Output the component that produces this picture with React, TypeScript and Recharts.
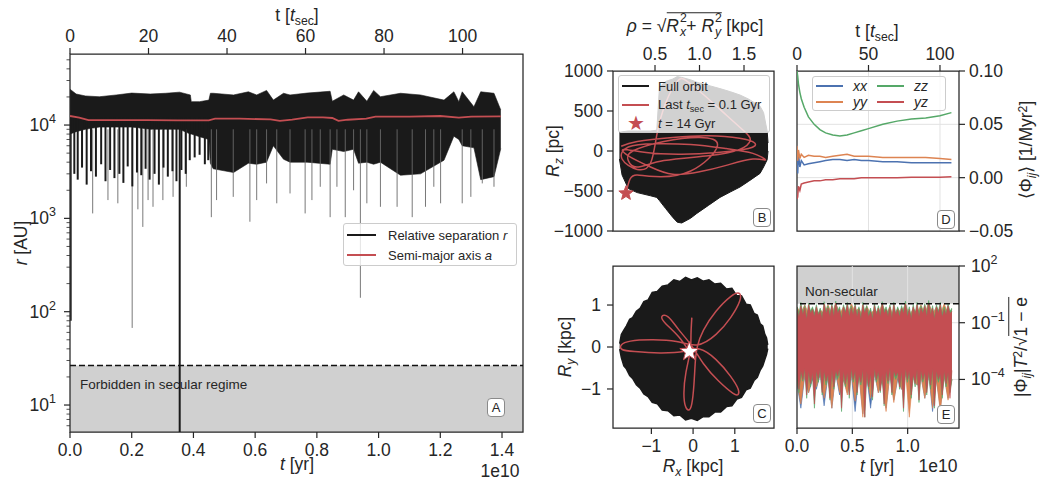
import React from 'react';
import {
  ComposedChart,
  Area,
  Line,
  Scatter,
  XAxis,
  YAxis,
  CartesianGrid,
  ReferenceArea,
  ReferenceLine,
  Legend,
} from 'recharts';

const FONT = '"Liberation Sans", Arial, sans-serif';
const INK = '#262626';
const BLACK = '#1a1a1a';
const RED = '#c44e52';
const BLUE = '#4c72b0';
const ORANGE = '#dd8452';
const GREEN = '#55a868';
const SHADE = '#d0d0d0';
const GRID = '#e2e2e2';

// ---- panel A: separation r and semi-major axis a, t in units of 1e10 yr
const tEnv = [0, 0.02, 0.05, 0.095, 0.15, 0.2, 0.26, 0.31, 0.355, 0.39, 0.393, 0.42, 0.45, 0.455, 0.464, 0.53, 0.578, 0.605, 0.637, 0.659, 0.692, 0.713, 0.768, 0.843, 0.85, 0.887, 0.919, 0.935, 0.962, 0.984, 1.006, 1.071, 1.136, 1.212, 1.244, 1.26, 1.271, 1.309, 1.331, 1.374, 1.396];
const rHigh = [24200, 21500, 20500, 20100, 21000, 22000, 21500, 21900, 22500, 21000, 17800, 17800, 18500, 21900, 21900, 21000, 22700, 21000, 23500, 18500, 21900, 21000, 22000, 23000, 18000, 21000, 18500, 22700, 18000, 23500, 20100, 21900, 21000, 18500, 22700, 17800, 22700, 15700, 22700, 21900, 14500];
const rLow = [8000, 8500, 9000, 9500, 9500, 9500, 9000, 9000, 9000, 8000, 8000, 7500, 7000, 3900, 3400, 3100, 3900, 3800, 4000, 6000, 4300, 4000, 4000, 3800, 5500, 5200, 5500, 3900, 4000, 3800, 4000, 2900, 3000, 4200, 7600, 7000, 6000, 5700, 2600, 2800, 5600];
const stripeT = [0.014, 0.025, 0.039, 0.054, 0.068, 0.084, 0.101, 0.115, 0.13, 0.144, 0.16, 0.173, 0.187, 0.202, 0.217, 0.231, 0.245, 0.258, 0.274, 0.288, 0.303, 0.317, 0.332, 0.345, 0.361, 0.375, 0.388, 0.404, 0.42, 0.437, 0.448];
const stripeMin = [3000, 2600, 3500, 2300, 3200, 2800, 3800, 2500, 3300, 2700, 3000, 2400, 3600, 2200, 3100, 2900, 3400, 2600, 3000, 2300, 3500, 2800, 3200, 2500, 3300, 3000, 4200, 4500, 4800, 3800, 4200];
const spikeT = [0.0735, 0.123, 0.155, 0.2015, 0.22, 0.236, 0.253, 0.269, 0.301, 0.334, 0.377, 0.458, 0.475, 0.529, 0.583, 0.605, 0.637, 0.67, 0.713, 0.762, 0.784, 0.811, 0.843, 0.865, 0.892, 0.919, 0.941, 0.962, 1.006, 1.06, 1.109, 1.152, 1.179, 1.201, 1.271, 1.299, 1.336, 1.374];
const spikeMin = [1130, 1570, 1450, 67, 1250, 810, 1570, 1330, 1570, 1700, 2180, 1030, 1570, 1700, 920, 1570, 2370, 1450, 1850, 1130, 1570, 2180, 1030, 2180, 1030, 2000, 141, 1450, 1330, 1330, 1030, 1330, 2180, 1450, 1450, 1700, 2370, 2180];
const tA = [0, 0.03, 0.06, 0.15, 0.25, 0.35, 0.45, 0.47, 0.55, 0.65, 0.68, 0.72, 0.77, 0.82, 0.85, 0.87, 0.9, 0.96, 0.99, 1.1, 1.2, 1.26, 1.3, 1.396];
const aVal = [12500, 12000, 11300, 11300, 11300, 11200, 11200, 11700, 11700, 11500, 11100, 11400, 12100, 12100, 11900, 11100, 11400, 11700, 12300, 12300, 12500, 12000, 12300, 12400];
const runTsec = [0, 110];
const plungeT = 0.3555;
const startT = 0.003;
const startMin = 80;
const secularLimit = 26.5;
const tTicksA = [0, 0.2, 0.4, 0.6, 0.8, 1.0, 1.2, 1.4];
const tsecTicksA = [0, 20, 40, 60, 80, 100];
const rMajorA = [10, 100, 1000, 10000];
const rMinorA = [6, 7, 8, 9, 20, 30, 40, 50, 60, 70, 80, 90, 200, 300, 400, 500, 600, 700, 800, 900, 2000, 3000, 4000, 5000, 6000, 7000, 8000, 9000, 20000, 30000, 40000, 50000];

// ---- panel B: rho vs Rz
const rhoEnv = [0.1, 0.13, 0.2, 0.3, 0.45, 0.52, 0.55, 0.62, 0.7, 0.75, 0.8, 0.9, 0.97, 1.1, 1.23, 1.35, 1.455, 1.55, 1.68, 1.72, 1.76, 1.77];
const rzLow = [-100, -300, -470, -520, -560, -580, -620, -720, -830, -890, -900, -840, -780, -680, -580, -510, -450, -380, -280, -200, -110, 0];
const rzHigh = [230, 240, 250, 250, 250, 260, 800, 870, 900, 930, 920, 890, 860, 820, 780, 740, 700, 650, 560, 480, 250, 100];
const rhoPath = [0.12, 0.3, 0.7, 1.1, 1.45, 1.62, 1.55, 1.2, 0.8, 0.4, 0.15, 0.2, 0.45, 0.7, 1.0, 1.3, 1.6, 1.74, 1.6, 1.3, 0.9, 0.5, 0.2, 0.13, 0.3, 0.45, 0.52, 0.62, 0.75, 0.85, 1.05, 1.3, 1.5, 1.57, 1.45, 1.1, 0.6, 0.3, 0.2, 0.25, 0.6, 1.0, 1.2, 0.9, 0.5, 0.3, 0.22, 0.174];
const rzPath = [60, 120, 170, 190, 160, 100, 30, -20, -40, -20, 20, -60, -200, -290, -260, -180, -100, -110, -30, 30, 80, 90, 50, -100, -230, -150, 200, 600, 870, 880, 700, 450, 250, 137, 20, -60, -120, -200, -120, 0, 120, 170, 60, -250, -320, -300, -350, -529];
const rhoNow = 0.174;
const rzNow = -529;
const rhoTicks = [0.5, 1.0, 1.5];
const rzTicks = [-1000, -500, 0, 500, 1000];

// ---- panel C: Rx vs Ry
const rxEnv = [-1.76, -1.72, -1.66, -1.6, -1.52, -1.45, -1.36, -1.27, -1.18, -1.08, -0.98, -0.86, -0.74, -0.6, -0.46, -0.32, -0.18, -0.04, 0.1, 0.24, 0.38, 0.52, 0.66, 0.8, 0.93, 1.05, 1.16, 1.27, 1.37, 1.46, 1.54, 1.61, 1.67, 1.72, 1.76, 1.79];
const ryLow = [-0.05, -0.25, -0.45, -0.52, -0.68, -0.75, -0.9, -0.98, -1.12, -1.18, -1.32, -1.35, -1.5, -1.52, -1.64, -1.62, -1.74, -1.7, -1.75, -1.66, -1.66, -1.55, -1.55, -1.42, -1.4, -1.24, -1.2, -1.02, -0.98, -0.8, -0.72, -0.55, -0.45, -0.3, -0.18, -0.04];
const ryHigh = [0.08, 0.3, 0.4, 0.5, 0.66, 0.7, 0.85, 0.92, 1.08, 1.12, 1.3, 1.32, 1.45, 1.48, 1.6, 1.56, 1.66, 1.6, 1.65, 1.57, 1.6, 1.5, 1.52, 1.38, 1.4, 1.22, 1.22, 1.02, 1.0, 0.8, 0.76, 0.55, 0.5, 0.3, 0.22, 0.05];
const rxPath = [-0.03, -0.05, -0.07, -0.17, -0.22, -0.18, -0.1, -0.03, 0.02, 0.05, 0.1, 0.25, 0.55, 0.9, 1.1, 1.12, 0.9, 0.55, 0.1, -0.4, -1.0, -1.5, -1.72, -1.7, -1.4, -0.8, -0.2, 0.15, 0.55, 0.9, 1.08, 1.08, 0.95, 0.6, 0.25, -0.05, -0.35, -0.6, -0.75, -0.65, -0.35, -0.09];
const ryPath = [0.7, 0.3, -0.1, -0.6, -1.1, -1.42, -1.5, -1.35, -0.9, -0.4, 0.0, 0.4, 0.85, 1.2, 1.28, 1.1, 0.7, 0.3, 0.05, 0.13, 0.17, 0.14, 0.05, -0.06, -0.11, -0.14, -0.1, -0.05, -0.3, -0.7, -1.0, -1.13, -1.1, -0.8, -0.4, 0.05, 0.42, 0.72, 0.72, 0.55, 0.25, -0.11];
const rxNow = -0.09;
const ryNow = -0.11;
const kpcTicks = [-1, 0, 1];

// ---- panel D: running mean of tidal tensor, t in t_sec
const tD = [0, 0.5, 1, 2, 3, 5, 8, 12, 16, 20, 25, 30, 35, 40, 45, 50, 60, 70, 80, 90, 100, 108];
const phiXX = [0.03, 0.004, 0.022, 0.01, 0.016, 0.012, 0.013, 0.014, 0.015, 0.016, 0.017, 0.017, 0.016, 0.017, 0.016, 0.016, 0.015, 0.015, 0.014, 0.014, 0.014, 0.014];
const phiYY = [0.03, 0.016, 0.026, 0.018, 0.022, 0.019, 0.021, 0.02, 0.02, 0.019, 0.02, 0.021, 0.022, 0.02, 0.02, 0.02, 0.019, 0.019, 0.019, 0.019, 0.018, 0.017];
const phiZZ = [0.1, 0.095, 0.088, 0.08, 0.074, 0.066, 0.057, 0.05, 0.045, 0.042, 0.04, 0.039, 0.04, 0.042, 0.044, 0.046, 0.05, 0.053, 0.055, 0.056, 0.058, 0.061];
const phiYZ = [-0.02, -0.018, -0.008, -0.012, -0.006, -0.005, -0.004, -0.003, -0.003, -0.002, -0.002, -0.001, -0.001, -0.001, 0, 0, 0, 0, 0.0005, 0.0005, 0.0005, 0.0008];
const tsecTicksD = [0, 50, 100];
const phiTicks = [-0.05, 0, 0.05, 0.1];

// ---- panel E: |Phi_ij| T^2 / sqrt(1-e), t in 1e10 yr
const tE = [0, 0.0175, 0.035, 0.0525, 0.07, 0.0875, 0.105, 0.1225, 0.14, 0.1575, 0.175, 0.1925, 0.21, 0.2275, 0.245, 0.2625, 0.28, 0.2975, 0.315, 0.3325, 0.35, 0.3675, 0.385, 0.4025, 0.42, 0.4375, 0.455, 0.4725, 0.49, 0.5075, 0.525, 0.5425, 0.56, 0.5775, 0.595, 0.6125, 0.63, 0.6475, 0.665, 0.6825, 0.7, 0.7175, 0.735, 0.7525, 0.77, 0.7875, 0.805, 0.8225, 0.84, 0.8575, 0.875, 0.8925, 0.91, 0.9275, 0.945, 0.9625, 0.98, 0.9975, 1.015, 1.0325, 1.05, 1.0675, 1.085, 1.1025, 1.12, 1.1375, 1.155, 1.1725, 1.19, 1.2075, 1.225, 1.2425, 1.26, 1.2775, 1.295, 1.3125, 1.33, 1.3475, 1.365, 1.3825, 1.4];
const redHi = [0.5, 0.2, 0.8, 0.25, 0.6, 0.15, 0.9, 0.3, 0.5, 0.2, 0.7, 0.25, 0.4, 0.15, 1.0, 0.3, 0.6, 0.2, 0.8, 0.2, 1.1, 0.3, 0.5, 0.15, 0.7, 0.3, 0.9, 0.2, 0.6, 0.25, 0.8, 0.2, 0.5, 0.15, 0.9, 0.3, 0.6, 0.2, 0.4, 0.15, 0.8, 0.25, 0.6, 0.2, 1.0, 0.3, 0.5, 0.2, 0.7, 0.15, 0.9, 0.25, 0.5, 0.2, 0.6, 0.3, 1.0, 0.2, 0.5, 0.15, 0.7, 0.25, 0.9, 0.2, 0.6, 0.3, 0.8, 0.2, 1.1, 0.25, 0.6, 0.15, 0.7, 0.3, 0.9, 0.2, 0.5, 0.25, 0.8, 0.3, 0.4];
const redLo = [2e-4, 3e-5, 3e-4, 1e-4, 4e-4, 1.5e-5, 3e-4, 6e-5, 2.5e-4, 5e-6, 3e-4, 1e-4, 4e-4, 2e-5, 3e-4, 8e-5, 2e-4, 1e-5, 3.5e-4, 4e-5, 3e-4, 1.5e-4, 4e-4, 3e-6, 3e-4, 6e-5, 2.5e-4, 1.5e-5, 4e-4, 1e-4, 3e-4, 2e-5, 2e-4, 7e-5, 3.5e-4, 1e-6, 3e-4, 4e-5, 2e-4, 1.2e-5, 4e-4, 1e-4, 3e-4, 2.5e-5, 2e-4, 5e-6, 3e-4, 8e-5, 4e-4, 2e-5, 3e-4, 1.5e-4, 2.5e-4, 4e-5, 3e-4, 3e-6, 4e-4, 1e-4, 3e-4, 1.5e-5, 2e-4, 6e-5, 3.5e-4, 8e-6, 3e-4, 1e-4, 2.5e-4, 2e-5, 3e-4, 5e-5, 4e-4, 4e-6, 3e-4, 1e-4, 2e-4, 1.5e-5, 3e-4, 6e-5, 2.5e-4, 1e-5, 3e-4];
const greenHi = [0.7, 0.3, 1.2, 0.3, 0.8, 0.2, 1.1, 0.4, 0.7, 0.3, 0.9, 0.3, 0.6, 0.2, 1.3, 0.4, 0.8, 0.3, 1.0, 0.3, 1.4, 0.4, 0.7, 0.2, 0.9, 0.4, 1.2, 0.3, 0.8, 0.3, 1.0, 0.3, 0.7, 0.2, 1.2, 0.4, 0.8, 0.3, 0.6, 0.2, 1.1, 0.3, 0.8, 0.3, 1.3, 0.4, 0.7, 0.3, 0.9, 0.2, 1.2, 0.3, 0.7, 0.3, 0.8, 0.4, 1.4, 0.3, 0.7, 0.2, 0.9, 0.3, 1.2, 0.3, 0.8, 0.4, 1.0, 0.3, 1.5, 0.3, 0.8, 0.2, 0.9, 0.4, 1.2, 0.3, 0.7, 0.3, 1.0, 0.4, 0.6];
const greenLo = [1.5e-4, 2e-5, 2e-4, 8e-5, 3e-4, 1e-5, 2e-4, 4e-5, 2e-4, 3e-6, 2e-4, 7e-5, 3e-4, 1.5e-5, 2e-4, 5e-5, 1.5e-4, 8e-6, 2.5e-4, 3e-5, 2e-4, 1e-4, 3e-4, 2e-6, 2e-4, 4e-5, 2e-4, 1e-5, 3e-4, 7e-5, 2e-4, 1.5e-5, 1.5e-4, 5e-5, 2.5e-4, 1e-6, 2e-4, 3e-5, 1.5e-4, 8e-6, 3e-4, 7e-5, 2e-4, 2e-5, 1.5e-4, 4e-6, 2e-4, 6e-5, 3e-4, 1.5e-5, 2e-4, 1e-4, 2e-4, 3e-5, 2e-4, 2e-6, 3e-4, 7e-5, 2e-4, 1e-5, 1.5e-4, 4e-5, 2.5e-4, 6e-6, 2e-4, 7e-5, 2e-4, 1.5e-5, 2e-4, 3e-5, 3e-4, 3e-6, 2e-4, 7e-5, 1.5e-4, 1e-5, 2e-4, 4e-5, 2e-4, 2e-5, 1e-4];
// orange and blue read at every second sample (0.035 spacing)
const orangeHi = [0.7, 0.3, 0.9, 0.3, 0.6, 0.2, 0.5, 0.3, 0.9, 0.3, 1.1, 0.3, 0.7, 0.2, 1.0, 0.4, 0.6, 0.2, 0.8, 0.3, 0.5, 0.3, 1.0, 0.3, 0.7, 0.2, 0.6, 0.3, 1.1, 0.2, 0.6, 0.3, 0.9, 0.3, 1.2, 0.3, 0.7, 0.3, 1.0, 0.3, 0.5];
const orangeLo = [8e-5, 5e-6, 2e-4, 2e-5, 1.5e-4, 4e-5, 2.5e-4, 1e-5, 1.5e-4, 3e-6, 2.5e-4, 2e-5, 1e-4, 1.5e-5, 2.5e-4, 7e-6, 2e-4, 1e-6, 1.5e-4, 1e-5, 2.5e-4, 2e-5, 1e-4, 2e-6, 2.5e-4, 6e-6, 1.5e-4, 3e-5, 2.5e-4, 1e-6, 2e-4, 5e-5, 1.5e-4, 1e-5, 2.5e-4, 3e-6, 1e-4, 2e-6, 1.5e-4, 8e-6, 1e-4];
const blueHi = [0.5, 0.3, 0.8, 0.2, 0.5, 0.2, 0.4, 0.3, 0.7, 0.2, 1.0, 0.3, 0.5, 0.2, 0.8, 0.3, 0.5, 0.2, 0.6, 0.3, 0.4, 0.2, 0.8, 0.3, 0.5, 0.2, 0.5, 0.3, 0.9, 0.2, 0.5, 0.3, 0.7, 0.2, 1.0, 0.3, 0.6, 0.2, 0.8, 0.3, 0.4];
const blueLo = [6e-5, 3e-6, 1.5e-4, 2e-5, 1e-4, 3e-5, 2e-4, 4e-6, 1.5e-4, 3e-6, 2e-4, 1.5e-5, 1e-4, 2e-5, 2e-4, 2e-6, 2e-4, 1.5e-6, 1.5e-4, 3e-6, 2e-4, 2e-5, 1e-4, 3e-6, 2e-4, 8e-6, 1e-4, 3e-5, 2e-4, 1.5e-5, 2e-4, 5e-5, 1.5e-4, 1e-5, 2e-4, 2e-6, 1e-4, 3e-6, 1.5e-4, 1e-5, 1e-4];
const nonSecular = 1;
const tTicksE = [0, 0.5, 1.0];
const eTicks = [1e-4, 1e-1, 1e2];

const subS: React.CSSProperties = { fontSize: '0.7em', position: 'relative', top: '0.3em' };
const supS: React.CSSProperties = { fontSize: '0.7em', position: 'relative', top: '-0.45em' };

type Side = 'left' | 'right' | 'top' | 'bottom';

const tick = (side: Side, fmt: (v: number) => React.ReactNode, minor: number[] = [], pad = 5) => (p: any) => {
  const v = p.payload.value;
  const small = minor.indexOf(v) >= 0;
  const len = small ? 3.5 : 6;
  const { x, y } = p;
  let l = [x, y, x, y];
  let tx = x;
  let ty = y;
  let anchor: any = 'middle';
  if (side === 'left') { l = [x, y, x - len, y]; tx = x - 6 - pad; ty = y + 6; anchor = 'end'; }
  else if (side === 'right') { l = [x, y, x + len, y]; tx = x + 6 + pad; ty = y + 6; anchor = 'start'; }
  else if (side === 'top') { l = [x, y, x, y - len]; ty = y - 6 - pad; }
  else { l = [x, y, x, y + len]; ty = y + 6 + pad + 12.5; }
  return (
    <g>
      <line x1={l[0]} y1={l[1]} x2={l[2]} y2={l[3]} stroke={INK} strokeWidth={small ? 0.8 : 1.2} />
      {!small && (
        <text x={tx} y={ty} textAnchor={anchor} fontSize={17.5} fill={INK} fontFamily={FONT}>
          {fmt(v)}
        </text>
      )}
    </g>
  );
};

const fmt1 = (v: number) => v.toFixed(1);
const fmtInt = (v: number) => (v < 0 ? '\u2212' + Math.abs(v) : String(v));
const fmt2 = (v: number) => (v < 0 ? '\u2212' : '') + Math.abs(v).toFixed(2);
const fmtPow = (v: number) => {
  const e = Math.round(Math.log10(v));
  return [
    <tspan key="b">10</tspan>,
    <tspan key="e" dy={-8} fontSize={12.5}>{e < 0 ? '\u2212' + -e : String(e)}</tspan>,
  ];
};

const noDot = () => <g />;

function starShape(fill: string, stroke: string, R: number) {
  return (p: any) => {
    const pts: string[] = [];
    for (let i = 0; i < 10; i++) {
      const r = i % 2 === 0 ? R : R * 0.42;
      const ang = -Math.PI / 2 + (i * Math.PI) / 5;
      pts.push(`${p.cx + r * Math.cos(ang)},${p.cy + r * Math.sin(ang)}`);
    }
    return <polygon points={pts.join(' ')} fill={fill} stroke={stroke} strokeWidth={1} />;
  };
}

function Txt({ x, y, rot = 0, size = 17.5, anchor = 'middle', children }: any) {
  const tx = anchor === 'middle' ? '-50%' : anchor === 'end' ? '-100%' : '0%';
  return (
    <div
      style={{
        position: 'absolute',
        left: x,
        top: y,
        transform: `translate(${tx}, -50%) rotate(${rot}deg)`,
        fontSize: size,
        whiteSpace: 'nowrap',
        lineHeight: 1,
        color: INK,
      }}
    >
      {children}
    </div>
  );
}

function Tag({ x, y, label }: { x: number; y: number; label: string }) {
  return (
    <div
      style={{
        position: 'absolute',
        left: x,
        top: y,
        width: 16,
        height: 17,
        border: '1px solid #8a8a8a',
        borderRadius: 4,
        background: '#fff',
        fontSize: 13,
        lineHeight: '17px',
        textAlign: 'center',
        color: INK,
      }}
    >
      {label}
    </div>
  );
}

// superscript stacked over subscript, as in R^2_x
const Stack = ({ sup, sub }: { sup: React.ReactNode; sub: React.ReactNode }) => (
  <span style={{ position: 'relative', display: 'inline-block', width: '0.6em', height: '1em', fontSize: '0.7em' }}>
    <span style={{ position: 'absolute', left: 1, top: '-0.6em' }}>{sup}</span>
    <span style={{ position: 'absolute', left: 1, top: '0.5em' }}>{sub}</span>
  </span>
);

type Item = { label: React.ReactNode; color: string; kind?: 'line' | 'star' };

function LegendBox({ items, rowH, lineW, gap, size, columns = 1 }: any) {
  const cols: Item[][] = [];
  const per = Math.ceil(items.length / columns);
  for (let c = 0; c < columns; c++) cols.push(items.slice(c * per, c * per + per));
  return (
    <div
      style={{
        display: 'flex',
        border: '1px solid #cccccc',
        borderRadius: 3,
        background: 'rgba(255,255,255,0.8)',
        padding: '1px 3px',
        fontFamily: FONT,
        fontSize: size,
        color: INK,
        boxSizing: 'border-box',
        width: '100%',
        height: '100%',
      }}
    >
      {cols.map((col, ci) => (
        <div key={ci} style={{ marginRight: ci < columns - 1 ? 10 : 0 }}>
          {col.map((it, i) => (
            <div key={i} style={{ display: 'flex', alignItems: 'center', height: rowH }}>
              <div style={{ width: lineW, display: 'flex', justifyContent: 'center', marginRight: gap }}>
                {it.kind === 'star' ? (
                  <span style={{ color: it.color, fontSize: 20, lineHeight: 1 }}>★</span>
                ) : (
                  <div style={{ width: lineW, height: 1.6, background: it.color }} />
                )}
              </div>
              <span>{it.label}</span>
            </div>
          ))}
        </div>
      ))}
    </div>
  );
}

const legendA: Item[] = [
  { label: <>Relative separation <i>r</i></>, color: BLACK },
  { label: <>Semi-major axis <i>a</i></>, color: RED },
];
const legendB: Item[] = [
  { label: 'Full orbit', color: BLACK },
  { label: <>Last <i>t</i><span style={subS}>sec</span> = 0.1 Gyr</>, color: RED },
  { label: <><i>t</i> = 14 Gyr</>, color: RED, kind: 'star' },
];
const legendD: Item[] = [
  { label: <i>xx</i>, color: BLUE },
  { label: <i>yy</i>, color: ORANGE },
  { label: <i>zz</i>, color: GREEN },
  { label: <i>yz</i>, color: RED },
];

const axisCommon = { tickSize: 0, tickMargin: 0, tickLine: false, axisLine: false, interval: 0 as const, allowDataOverflow: true };

function PanelA() {
  const env = tEnv.map((t, i) => ({ t, band: [rLow[i], rHigh[i]] }));
  const aLine = tA.map((t, i) => ({ t, y: aVal[i] }));
  const run = runTsec.map((ts, i) => ({ ts, y: i === 0 ? aVal[0] : aVal[aVal.length - 1] }));
  const xMax = 1.468;
  const yMin = 5.14;
  const yMax = 57700;
  const rTicks = [...rMinorA, ...rMajorA].sort((a, b) => a - b);
  return (
    <div style={{ position: 'absolute', left: 0, top: 0 }}>
      <ComposedChart width={560} height={487} data={env} margin={{ top: 24, right: 37, bottom: 25, left: 0 }}>
        <XAxis dataKey="t" type="number" domain={[0, xMax]} ticks={tTicksA} height={30} tick={tick('bottom', fmt1)} {...axisCommon} />
        <XAxis xAxisId="top" dataKey="ts" orientation="top" type="number" domain={[0, 115.4]} ticks={tsecTicksA} height={30} tick={tick('top', fmtInt, [], 6)} {...axisCommon} />
        <YAxis dataKey="y" type="number" scale="log" domain={[yMin, yMax]} ticks={rTicks} width={70} tick={tick('left', fmtPow, rMinorA, 8)} {...axisCommon} />
        <ReferenceArea x1={0} x2={xMax} y1={yMin} y2={secularLimit} fill={SHADE} fillOpacity={1} stroke="none" ifOverflow="visible" />
        <ReferenceLine y={secularLimit} stroke="#111" strokeWidth={1.5} strokeDasharray="6 3" />
        {spikeT.map((t, i) => (
          <ReferenceLine key={'sp' + i} segment={[{ x: t, y: spikeMin[i] }, { x: t, y: 9000 }]} stroke="#6a6a6a" strokeWidth={0.9} />
        ))}
        {stripeT.map((t, i) => (
          <ReferenceLine key={'st' + i} segment={[{ x: t, y: stripeMin[i] }, { x: t, y: 12000 }]} stroke={BLACK} strokeWidth={2} />
        ))}
        <ReferenceLine segment={[{ x: startT, y: startMin }, { x: startT, y: 12000 }]} stroke={BLACK} strokeWidth={1.5} />
        <ReferenceLine segment={[{ x: plungeT, y: yMin }, { x: plungeT, y: 11000 }]} stroke={BLACK} strokeWidth={2} />
        <Area dataKey="band" type="linear" fill={BLACK} fillOpacity={1} stroke={BLACK} strokeWidth={0.6} isAnimationActive={false} dot={false} activeDot={false} />
        <Scatter data={aLine} line={{ stroke: RED, strokeWidth: 1.8 }} shape={noDot} isAnimationActive={false} />
        <Scatter xAxisId="top" data={run} shape={noDot} isAnimationActive={false} />
        <ReferenceArea x1={0} x2={xMax} y1={yMin} y2={yMax} fill="none" stroke={INK} strokeWidth={1.25} ifOverflow="visible" />
        <Legend
          layout="vertical"
          align="center"
          verticalAlign="middle"
          wrapperStyle={{ left: 343, top: 223, width: 174, height: 43 }}
          content={() => <LegendBox items={legendA} rowH={20} lineW={29} gap={12} size={13} />}
        />
      </ComposedChart>
    </div>
  );
}

function PanelB() {
  const env = rhoEnv.map((rho, i) => ({ rho, band: [rzLow[i], rzHigh[i]] }));
  const path = rhoPath.map((rho, i) => ({ rho, rz: rzPath[i] }));
  const x0 = 0.028;
  const x1 = 1.837;
  return (
    <div style={{ position: 'absolute', left: 540, top: 0 }}>
      <ComposedChart width={250} height={250} data={env} margin={{ top: 41, right: 16, bottom: 19, left: 0 }}>
        <XAxis dataKey="rho" orientation="top" type="number" domain={[x0, x1]} ticks={rhoTicks} height={30} tick={tick('top', fmt1, [], 5)} {...axisCommon} />
        <YAxis dataKey="rz" type="number" domain={[-1000, 1000]} ticks={rzTicks} width={73} tick={tick('left', fmtInt, [], 4)} {...axisCommon} />
        <Area dataKey="band" type="linear" fill={BLACK} fillOpacity={1} stroke={BLACK} strokeWidth={1} isAnimationActive={false} dot={false} activeDot={false} />
        <Line data={path} dataKey="rz" type="natural" stroke={RED} strokeWidth={1.5} dot={false} activeDot={false} isAnimationActive={false} />
        <Scatter data={[{ rho: rhoNow, rz: rzNow }]} shape={starShape(RED, RED, 7.5)} isAnimationActive={false} />
        <ReferenceArea x1={x0} x2={x1} y1={-1000} y2={1000} fill="none" stroke={INK} strokeWidth={1.25} ifOverflow="visible" />
        <Legend
          layout="vertical"
          align="center"
          verticalAlign="middle"
          wrapperStyle={{ left: 78, top: 75, width: 152, height: 58 }}
          content={() => <LegendBox items={legendB} rowH={18.5} lineW={27} gap={9} size={13} />}
        />
      </ComposedChart>
    </div>
  );
}

function PanelC() {
  const env = rxEnv.map((rx, i) => ({ rx, band: [ryLow[i], ryHigh[i]] }));
  const path = rxPath.map((rx, i) => ({ rx, ry: ryPath[i] }));
  const xd: [number, number] = [-1.92, 1.94];
  const yd: [number, number] = [-1.93, 1.93];
  return (
    <div style={{ position: 'absolute', left: 540, top: 250 }}>
      <ComposedChart width={250} height={237} data={env} margin={{ top: 16, right: 16, bottom: 29, left: 0 }}>
        <XAxis dataKey="rx" type="number" domain={xd} ticks={kpcTicks} height={30} tick={tick('bottom', fmtInt)} {...axisCommon} />
        <YAxis dataKey="ry" type="number" domain={yd} ticks={kpcTicks} width={73} tick={tick('left', fmtInt, [], 6)} {...axisCommon} />
        <Area dataKey="band" type="linear" fill={BLACK} fillOpacity={1} stroke={BLACK} strokeWidth={1.5} isAnimationActive={false} dot={false} activeDot={false} />
        <Line data={path} dataKey="ry" type="natural" stroke={RED} strokeWidth={1.5} dot={false} activeDot={false} isAnimationActive={false} />
        <Scatter data={[{ rx: rxNow, ry: ryNow }]} shape={starShape('#ffffff', RED, 10)} isAnimationActive={false} />
        <ReferenceArea x1={xd[0]} x2={xd[1]} y1={yd[0]} y2={yd[1]} fill="none" stroke={INK} strokeWidth={1.25} ifOverflow="visible" />
      </ComposedChart>
    </div>
  );
}

function PanelD() {
  const rows = tD.map((t, i) => ({ t, xx: phiXX[i], yy: phiYY[i], zz: phiZZ[i], yz: phiYZ[i] }));
  const xMax = 113.3;
  return (
    <div style={{ position: 'absolute', left: 770, top: 0 }}>
      <ComposedChart width={272} height={250} data={rows} margin={{ top: 41, right: 23, bottom: 19, left: 27 }}>
        <CartesianGrid stroke={GRID} strokeWidth={1} verticalValues={[50, 100]} horizontalValues={[0.05, 0]} />
        <XAxis dataKey="t" orientation="top" type="number" domain={[0, xMax]} ticks={tsecTicksD} height={30} tick={tick('top', fmtInt, [], 5)} {...axisCommon} />
        <YAxis orientation="right" type="number" domain={[-0.05, 0.1]} ticks={phiTicks} width={60} tick={tick('right', fmt2, [], 4)} {...axisCommon} />
        <Line dataKey="xx" type="linear" stroke={BLUE} strokeWidth={1.5} dot={false} isAnimationActive={false} />
        <Line dataKey="yy" type="linear" stroke={ORANGE} strokeWidth={1.5} dot={false} isAnimationActive={false} />
        <Line dataKey="zz" type="linear" stroke={GREEN} strokeWidth={1.5} dot={false} isAnimationActive={false} />
        <Line dataKey="yz" type="linear" stroke={RED} strokeWidth={1.5} dot={false} isAnimationActive={false} />
        <ReferenceArea x1={0} x2={xMax} y1={-0.05} y2={0.1} fill="none" stroke={INK} strokeWidth={1.25} ifOverflow="visible" />
        <Legend
          layout="vertical"
          align="center"
          verticalAlign="middle"
          wrapperStyle={{ left: 42, top: 76, width: 134, height: 35 }}
          content={() => <LegendBox items={legendD} rowH={16} lineW={27} gap={10} size={14} columns={2} />}
        />
      </ComposedChart>
    </div>
  );
}

function PanelE() {
  const rows = tE.map((t, i) => {
    const k = i / 2;
    const even = i % 2 === 0;
    return {
      t,
      b: even ? [blueLo[k], blueHi[k]] : null,
      o: even ? [orangeLo[k], orangeHi[k]] : null,
      g: [greenLo[i], greenHi[i]],
      r: [redLo[i], redHi[i]],
    };
  });
  const xMax = 1.464;
  const yMin = 2.7e-7;
  const yMax = 100;
  const band = (key: string, color: string) => (
    <Area dataKey={key} type="linear" connectNulls fill={color} fillOpacity={1} stroke={color} strokeWidth={0.6} isAnimationActive={false} dot={false} activeDot={false} />
  );
  return (
    <div style={{ position: 'absolute', left: 770, top: 250 }}>
      <ComposedChart width={272} height={237} data={rows} margin={{ top: 16, right: 23, bottom: 29, left: 27 }}>
        <CartesianGrid stroke={GRID} strokeWidth={1} verticalValues={[0.5, 1.0]} horizontalValues={[0.1, 1e-4]} />
        <XAxis dataKey="t" type="number" domain={[0, xMax]} ticks={tTicksE} height={30} tick={tick('bottom', fmt1)} {...axisCommon} />
        <YAxis orientation="right" type="number" scale="log" domain={[yMin, yMax]} ticks={eTicks} width={60} tick={tick('right', fmtPow, [], 6)} {...axisCommon} />
        <ReferenceArea x1={0} x2={xMax} y1={nonSecular} y2={yMax} fill={SHADE} fillOpacity={1} stroke="none" ifOverflow="visible" />
        <ReferenceLine segment={[{ x: 0.5, y: nonSecular }, { x: 0.5, y: yMax }]} stroke={GRID} strokeWidth={1} />
        <ReferenceLine segment={[{ x: 1.0, y: nonSecular }, { x: 1.0, y: yMax }]} stroke={GRID} strokeWidth={1} />
        {band('b', BLUE)}
        {band('o', ORANGE)}
        {band('g', GREEN)}
        {band('r', RED)}
        <ReferenceLine y={nonSecular} stroke="#111" strokeWidth={1.5} strokeDasharray="6 3" />
        <ReferenceArea x1={0} x2={xMax} y1={yMin} y2={yMax} fill="none" stroke={INK} strokeWidth={1.25} ifOverflow="visible" />
      </ComposedChart>
    </div>
  );
}

export default function App() {
  return (
    <div style={{ position: 'absolute', left: 0, top: 0, width: 1042, height: 487, background: '#ffffff', fontFamily: FONT, color: INK, overflow: 'hidden' }}>
      <PanelA />
      <PanelB />
      <PanelC />
      <PanelD />
      <PanelE />

      <Txt x={297} y={16}>t [<i>t</i><span style={subS}>sec</span>]</Txt>
      <Txt x={297} y={465}><i>t</i> [yr]</Txt>
      <Txt x={500} y={472}>1e10</Txt>
      <Txt x={22} y={243} rot={-90}><i>r</i> [AU]</Txt>
      <Txt x={80} y={385} size={13.5} anchor="start">Forbidden in secular regime</Txt>
      <Tag x={487} y={398} label="A" />

      <Txt x={695} y={27}>
        <i>ρ</i> = √
        <span style={{ borderTop: '1.2px solid ' + INK, paddingTop: 3 }}>
          <i>R</i><Stack sup="2" sub={<i>x</i>} />+ <i>R</i><Stack sup="2" sub={<i>y</i>} />
        </span>{' '}[kpc]
      </Txt>
      <Txt x={554} y={151} rot={-90}><i>R</i><span style={subS}><i>z</i></span> [pc]</Txt>
      <Tag x={753} y={208} label="B" />

      <Txt x={566} y={347} rot={-90}><i>R</i><span style={subS}><i>y</i></span> [kpc]</Txt>
      <Txt x={693} y={467}><i>R</i><span style={subS}><i>x</i></span> [kpc]</Txt>
      <Tag x={753} y={404} label="C" />

      <Txt x={877} y={32}>t [<i>t</i><span style={subS}>sec</span>]</Txt>
      <Txt x={1027} y={150} rot={-90}>⟨Φ<span style={subS}><i>ij</i></span>⟩ [1/Myr<span style={supS}>2</span>]</Txt>
      <Tag x={937} y={210} label="D" />

      <Txt x={805} y={292} size={13.5} anchor="start">Non-secular</Txt>
      <Txt x={1022} y={347} rot={-90}>
        |Φ<span style={subS}><i>ij</i></span>|<i>T</i><span style={supS}>2</span>/√
        <span style={{ borderTop: '1.2px solid ' + INK, paddingTop: 2 }}>1 − e</span>
      </Txt>
      <Txt x={877} y={467}><i>t</i> [yr]</Txt>
      <Txt x={938} y={467}>1e10</Txt>
      <Tag x={937} y={405} label="E" />
    </div>
  );
}
